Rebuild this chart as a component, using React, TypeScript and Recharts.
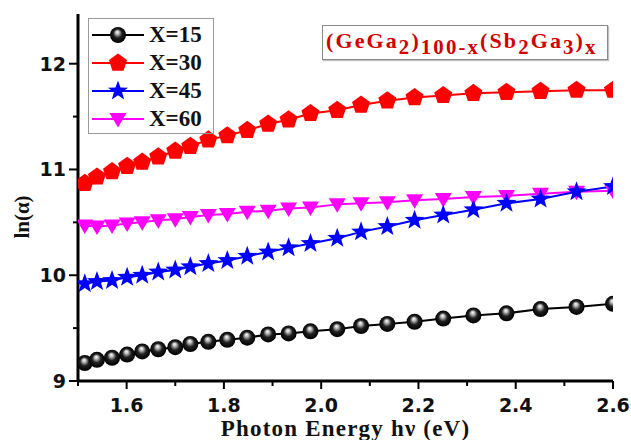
import React from "react";
import { LineChart, Line, XAxis, YAxis, Label } from "recharts";

// photon energy (eV) of each measured point, shared by all four samples
const energy = [
  1.514, 1.539, 1.57, 1.601, 1.632, 1.665, 1.7, 1.731, 1.768, 1.807, 1.848, 1.891,
  1.933, 1.978, 2.033, 2.082, 2.136, 2.192, 2.251, 2.313, 2.381, 2.451, 2.525, 2.6,
];

const x15 = [
  9.17, 9.2, 9.22, 9.25, 9.28, 9.3, 9.32, 9.35, 9.37, 9.39, 9.41, 9.44,
  9.45, 9.47, 9.49, 9.52, 9.54, 9.56, 9.59, 9.62, 9.64, 9.68, 9.7, 9.73,
];
const x30 = [
  10.87, 10.93, 10.98, 11.03, 11.07, 11.12, 11.175, 11.22, 11.28, 11.32, 11.37, 11.43,
  11.47, 11.53, 11.56, 11.61, 11.65, 11.68, 11.7, 11.72, 11.73, 11.74, 11.75, 11.75,
];
const x45 = [
  9.92, 9.94, 9.95, 9.98, 10.0, 10.03, 10.05, 10.08, 10.11, 10.14, 10.18, 10.22,
  10.26, 10.3, 10.35, 10.41, 10.46, 10.52, 10.57, 10.62, 10.68, 10.72, 10.79, 10.84,
];
const x60 = [
  10.47, 10.46, 10.47, 10.49, 10.5, 10.52, 10.53, 10.55, 10.57, 10.58, 10.6, 10.61,
  10.63, 10.64, 10.67, 10.68, 10.69, 10.71, 10.72, 10.74, 10.75, 10.77, 10.79, 10.8,
];

const xTicks = [1.5, 1.6, 1.7, 1.8, 1.9, 2.0, 2.1, 2.2, 2.3, 2.4, 2.5, 2.6];
const yTicks = [9, 9.5, 10, 10.5, 11, 11.5, 12];
const seriesNames = ["X=15", "X=30", "X=45", "X=60"];

const data = energy.map((e, i) => ({ e, x15: x15[i], x30: x30[i], x45: x45[i], x60: x60[i] }));

const SANS = '"DejaVu Sans", sans-serif';
const SERIF = '"Liberation Serif", "Times New Roman", serif';

// ---- markers ----
const Sphere = ({ cx, cy, id = "sphere" }: any) => <circle cx={cx} cy={cy} r={8} fill={`url(#${id})`} />;

const Pentagon = ({ cx, cy }: any) => {
  const pts = [0, 1, 2, 3, 4]
    .map((k) => {
      const a = ((-90 + k * 72) * Math.PI) / 180;
      return `${cx + 9.5 * Math.cos(a)},${cy + 9.5 * Math.sin(a)}`;
    })
    .join(" ");
  return <polygon points={pts} fill="#ff0000" />;
};

const Star = ({ cx, cy }: any) => {
  const pts = Array.from({ length: 10 }, (_, k) => {
    const r = k % 2 === 0 ? 10.5 : 4.3;
    const a = ((-90 + k * 36) * Math.PI) / 180;
    return `${cx + r * Math.cos(a)},${cy + r * Math.sin(a)}`;
  }).join(" ");
  return <polygon points={pts} fill="#0000ff" />;
};

const DownTri = ({ cx, cy }: any) => (
  <polygon points={`${cx - 8.5},${cy - 6} ${cx + 8.5},${cy - 6} ${cx},${cy + 8.5}`} fill="#ff00ff" />
);

const SphereGrad = ({ id }: { id: string }) => (
  <radialGradient id={id} cx="0.5" cy="0.5" r="0.5" fx="0.45" fy="0.3">
    <stop offset="0%" stopColor="#ffffff" />
    <stop offset="22%" stopColor="#bdbdbd" />
    <stop offset="55%" stopColor="#202020" />
    <stop offset="100%" stopColor="#000000" />
  </radialGradient>
);

// ---- ticks ----
const XTick = ({ x, y, payload }: any) => {
  const v = payload.value;
  const major = Math.round(v * 10) % 2 === 0;
  return (
    <g>
      <line x1={x} y1={y} x2={x} y2={y + (major ? 8 : 5)} stroke="#000" strokeWidth={2} />
      {major && (
        <text x={x} y={y + 31} textAnchor="middle" fontFamily={SANS} fontWeight="bold" fontSize={19} fill="#111">
          {v.toFixed(1)}
        </text>
      )}
    </g>
  );
};

const YTick = ({ x, y, payload }: any) => {
  const v = payload.value;
  const major = Number.isInteger(v);
  return (
    <g>
      <line x1={x} y1={y} x2={x - (major ? 9 : 5)} y2={y} stroke="#000" strokeWidth={2} />
      {major && (
        <text x={x - 12} y={y} dy="0.36em" textAnchor="end" fontFamily={SANS} fontWeight="bold" fontSize={19} fill="#111">
          {v}
        </text>
      )}
    </g>
  );
};

const legendMarkers = [
  { color: "#000000", Marker: (p: any) => <Sphere {...p} id="sphereLg" /> },
  { color: "#ff0000", Marker: Pentagon },
  { color: "#0000ff", Marker: Star },
  { color: "#ff00ff", Marker: DownTri },
];

const subStyle = { fontSize: "0.95em", verticalAlign: "-0.28em" };

export default function App() {
  return (
    <div style={{ position: "absolute", left: 0, top: 0, width: 631, height: 440, background: "#fff" }}>
      <LineChart width={631} height={440} data={data} margin={{ top: 14, right: 18, left: 0, bottom: 0 }}>
        <defs>
          <SphereGrad id="sphere" />
        </defs>
        <Line
          dataKey="x15"
          stroke="#000"
          strokeWidth={2}
          isAnimationActive={false}
          dot={(p: any) => <Sphere key={p.index} cx={p.cx} cy={p.cy} />}
        />
        <Line
          dataKey="x30"
          stroke="#ff0000"
          strokeWidth={2}
          isAnimationActive={false}
          dot={(p: any) => <Pentagon key={p.index} cx={p.cx} cy={p.cy} />}
        />
        <Line
          dataKey="x60"
          stroke="#ff00ff"
          strokeWidth={2}
          isAnimationActive={false}
          dot={(p: any) => <DownTri key={p.index} cx={p.cx} cy={p.cy} />}
        />
        <Line
          dataKey="x45"
          stroke="#0000ff"
          strokeWidth={2}
          isAnimationActive={false}
          dot={(p: any) => <Star key={p.index} cx={p.cx} cy={p.cy} />}
        />
        <XAxis
          dataKey="e"
          type="number"
          domain={[1.5, 2.6]}
          ticks={xTicks}
          allowDataOverflow
          height={59}
          tickSize={0}
          tickMargin={0}
          tickLine={false}
          axisLine={{ stroke: "#000", strokeWidth: 3 }}
          tick={(p: any) => <XTick {...p} />}
        >
          <Label
            value="Photon Energy hν (eV)"
            position="insideBottom"
            offset={4}
            fontFamily={SERIF}
            fontWeight="bold"
            fontSize={23}
            letterSpacing={1.2}
            fill="#111"
          />
        </XAxis>
        <YAxis
          type="number"
          domain={[9, 12.47]}
          ticks={yTicks}
          allowDataOverflow
          width={78}
          tickSize={0}
          tickMargin={0}
          tickLine={false}
          axisLine={{ stroke: "#000", strokeWidth: 3 }}
          tick={(p: any) => <YTick {...p} />}
        >
          <Label
            content={() => (
              <text
                transform="translate(29,217) rotate(-90)"
                textAnchor="middle"
                fontFamily={SERIF}
                fontWeight="bold"
                fontSize={21}
                fill="#111"
              >
                ln(α)
              </text>
            )}
          />
        </YAxis>
        <XAxis
          xAxisId="top"
          orientation="top"
          type="number"
          domain={[1.5, 2.6]}
          height={0}
          tick={false}
          tickLine={false}
          axisLine={{ stroke: "#000", strokeWidth: 3 }}
        />
        <YAxis
          yAxisId="right"
          orientation="right"
          type="number"
          domain={[9, 12.47]}
          width={0}
          tick={false}
          tickLine={false}
          axisLine={{ stroke: "#000", strokeWidth: 3 }}
        />
      </LineChart>

      {/* legend box */}
      <div
        style={{
          position: "absolute",
          left: 88,
          top: 18,
          width: 124,
          height: 112,
          border: "1px solid #9a9a9a",
          paddingTop: 2,
          boxSizing: "content-box",
        }}
      >
        {seriesNames.map((name, i) => {
          const { color, Marker } = legendMarkers[i];
          return (
            <div key={name} style={{ display: "flex", alignItems: "center", height: 28 }}>
              <svg width={58} height={28} style={{ flex: "none" }}>
                <defs>
                  <SphereGrad id="sphereLg" />
                </defs>
                <line x1={3} y1={14} x2={55} y2={14} stroke={color} strokeWidth={2} />
                <Marker cx={29} cy={14} />
              </svg>
              <span
                style={{
                  fontFamily: SERIF,
                  fontWeight: "bold",
                  fontSize: 23,
                  color: "#111",
                  marginLeft: 2,
                  lineHeight: "28px",
                }}
              >
                {name}
              </span>
            </div>
          );
        })}
      </div>

      {/* composition label */}
      <div
        style={{
          position: "absolute",
          left: 322,
          top: 25,
          width: 286,
          height: 35,
          border: "1px solid #8a8a8a",
          boxShadow: "1px 1px 1px rgba(0,0,0,0.25)",
          fontFamily: SERIF,
          fontWeight: "bold",
          fontSize: 22,
          letterSpacing: 2.1,
          color: "#d40000",
          whiteSpace: "nowrap",
          lineHeight: "30px",
          paddingLeft: 3,
          boxSizing: "border-box",
        }}
      >
        (GeGa<sub style={subStyle}>2</sub>)<sub style={subStyle}>100-x</sub>(Sb<sub style={subStyle}>2</sub>Ga
        <sub style={subStyle}>3</sub>)<sub style={subStyle}>x</sub>
      </div>
    </div>
  );
}
